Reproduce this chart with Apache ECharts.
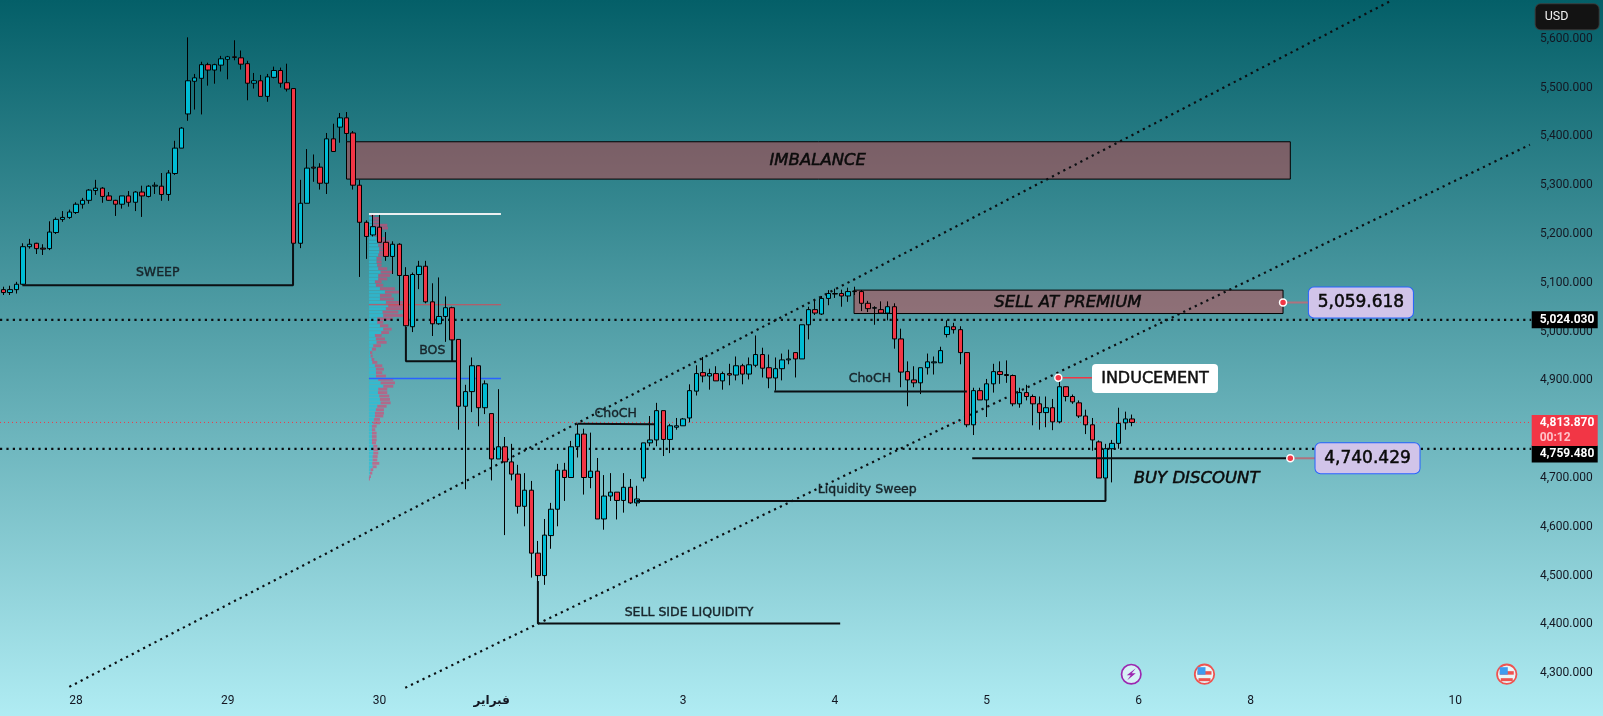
<!DOCTYPE html>
<html><head><meta charset="utf-8">
<style>html,body{margin:0;padding:0;background:#5aa}#c{width:1603px;height:716px}</style>
<script src="https://cdn.jsdelivr.net/npm/echarts@6/dist/echarts.min.js"></script>
</head><body><div id="c"></div>
<script>
const opens=[5086,5080,5086,5097,5174,5181,5171,5170,5203,5230,
5234,5244,5261,5269,5289,5294,5278,5269,5261,5278,
5265,5286,5277,5298,5298,5281,5324,5376,5446,5513,
5519,5547,5536,5546,5558,5563,5561,5549,5509,5514,
5482,5521,5535,5510,5498,5181,5263,5337,5337,5304,
5395,5419,5438,5407,5300,5224,5198,5214,5183,5154,
5179,5115,5010,5117,5134,5061,5016,5031,5049,4984,
4847,4877,4930,4844,4832,4739,4764,4733,4708,4642,
4675,4546,4500,4582,4636,4716,4701,4764,4790,4701,
4714,4616,4663,4671,4654,4681,4649,4700,4772,4778,
4838,4779,4804,4807,4823,4878,4916,4909,4914,4899,
4914,4911,4930,4913,4931,4953,4926,4905,4924,4942,
4957,4944,5014,5045,5036,5068,5077,5078,5073,5082,
5082,5058,5048,5045,5038,5051,4985,4918,4901,4895,
4926,4936,4936,4994,5010,5004,4957,4809,4879,4860,
4893,4918,4912,4910,4852,4875,4867,4852,4834,4844,
4815,4887,4867,4854,4827,4809,4774,4700,4760,4771,4813,4821];
const closes=[5080,5086,5097,5174,5179,5170,5169,5204,5230,5234,
5245,5261,5269,5290,5294,5277,5269,5261,5278,5265,
5286,5278,5298,5300,5281,5325,5376,5417,5514,5520,
5547,5536,5547,5559,5563,5562,5548,5509,5514,5482,
5522,5535,5509,5497,5181,5263,5335,5335,5304,5395,
5369,5438,5406,5300,5224,5195,5215,5183,5154,5179,
5115,5012,5117,5134,5061,5016,5031,5049,4983,4847,
4877,4930,4844,4893,4739,4764,4733,4708,4642,4675,
4546,4500,4583,4636,4716,4701,4764,4790,4701,4714,
4616,4663,4671,4654,4681,4649,4657,4772,4778,4838,
4779,4807,4807,4821,4879,4914,4909,4914,4899,4914,
4911,4930,4913,4932,4953,4925,4905,4924,4942,4944,
4944,5014,5045,5038,5068,5078,5078,5073,5082,5083,
5058,5047,5049,5038,5051,4985,4917,4901,4895,4926,
4938,4938,4961,5010,5004,4957,4809,4879,4860,4893,
4918,4912,4910,4852,4875,4867,4852,4834,4844,4815,
4887,4867,4856,4827,4809,4778,4700,4760,4771,4812,4821,4813.87];
const highs=[5092,5094,5102,5181,5190,5182,5179,5226,5234,5247,
5250,5265,5274,5292,5311,5296,5286,5270,5278,5288,
5288,5299,5300,5306,5325,5331,5391,5419,5603,5528,
5553,5551,5549,5565,5565,5597,5576,5555,5530,5526,
5528,5543,5541,5549,5498,5311,5374,5363,5345,5407,
5426,5448,5450,5411,5311,5228,5239,5239,5204,5185,
5181,5132,5121,5145,5145,5099,5111,5072,5051,4984,
4891,4947,4931,4900,4832,4882,4784,4770,4727,4710,
4694,4571,4616,4649,4729,4731,4776,4811,4801,4793,
4741,4706,4710,4671,4710,4698,4684,4772,4827,4854,
4838,4811,4823,4823,4892,4931,4948,4924,4929,4918,
4934,4949,4934,4947,4992,4967,4953,4947,4955,4963,
4957,5014,5051,5064,5073,5085,5088,5086,5090,5092,
5085,5063,5052,5062,5062,5058,5006,4939,4929,4926,
4955,4949,4969,5023,5018,5011,4958,4885,4885,4903,
4934,4939,4941,4912,4885,4891,4871,4867,4867,4862,
4903,4888,4871,4859,4840,4823,4777,4770,4778,4844,4836,4830];
const lows=[5075,5075,5078,5095,5170,5159,5157,5167,5200,5225,
5231,5241,5252,5262,5280,5264,5268,5237,5252,5256,
5247,5235,5275,5282,5268,5268,5321,5376,5432,5455,
5445,5504,5508,5533,5517,5556,5537,5474,5498,5482,
5471,5519,5500,5492,5181,5171,5263,5307,5291,5282,
5369,5387,5389,5291,5112,5149,5195,5183,5145,5118,
5054,5010,4999,5087,5058,4991,5014,4979,4981,4799,
4677,4835,4806,4831,4695,4739,4583,4695,4627,4601,
4496,4489,4481,4555,4601,4653,4701,4742,4666,4679,
4616,4594,4653,4615,4629,4647,4642,4693,4765,4765,
4745,4751,4799,4807,4814,4869,4896,4881,4899,4881,
4890,4900,4892,4902,4927,4906,4884,4879,4900,4933,
4906,4944,4984,5034,5034,5054,5069,5051,5061,5075,
5042,5040,5014,5038,5023,4965,4886,4847,4886,4872,
4912,4912,4936,4988,4996,4933,4804,4788,4860,4825,
4875,4893,4895,4847,4844,4859,4808,4799,4804,4798,
4812,4857,4852,4823,4790,4756,4700,4653,4691,4760,4799,4806];

const tickBars=[11,34,57,74,103,126,149,172,189,220];
const tickLabels=['28','29','30','فبراير','3','4','5','6','8','10'];
const barCount=232;

const lastPrice=4813.87, levelA=5024.03, levelB=4759.48, premium=5059.618, discount=4740.429;

// volume profile
const profilePrices=[5239,5232,5225,5218,5212,5205,5198,5191,5184,5177,5170,5163,5157,5150,5143,5136,5129,5122,5115,5108,5102,5095,5088,5081,5074,5067,5060,5053,5047,5040,5033,5026,5019,5012,5005,4998,4992,4985,4978,4971,4964,4957,4950,4943,4937,4930,4923,4916,4909,4902,4895,4888,4882,4875,4868,4861,4854,4847,4840,4833,4827,4820,4813,4806,4799,4792,4785,4778,4772,4765,4758,4751,4744,4737,4730,4723,4717,4710,4703,4698];
const profileBuy=[5,10,13,13,17,13,18,23,26,28,31,31,28,23,23,25,28,35,28,28,18,21,33,48,33,33,51,58,51,41,43,25,25,33,43,37,18,21,23,13,9,3,5,8,10,18,21,21,21,28,35,43,28,27,31,33,35,25,21,18,18,15,13,9,9,9,9,9,9,13,13,13,11,11,10,11,5,3,1,0];
const profileSell=[13,21,20,42,40,25,20,25,37,35,32,47,30,15,15,13,27,38,35,27,20,22,45,45,35,42,57,50,57,47,65,46,18,25,25,23,20,27,30,23,12,7,6,8,15,22,24,19,30,45,43,30,27,28,30,30,30,28,24,27,25,18,20,14,10,14,14,14,12,12,15,15,15,14,21,12,8,7,5,3];

// annotation geometry, in bar numbers and prices
const upperChannel=[[10,4272],[210.4,5679]];
const lowerChannel=[[60.9,4270],[231.3,5383]];
const dotLevels=[levelA,levelB];
const blackLines=[
 [[2.9,5095],[43.9,5095],[43.9,5181]],
 [[61,5010],[61,4939],[68.7,4939]],
 [[68,4983],[68,4939]],
 [[87,4811],[87,4810],[98.6,4810]],
 [[81,4489],[81,4402],[126.8,4402]],
 [[95.9,4653],[167,4653],[167,4700]],
 [[116.8,4877.4],[146,4877.4]],
 [[146.8,discount],[195,discount]]
];
const zones=[[52,195,5389,5312.5],[128.9,193.9,5085,5037]];
const profileTop=[[55.4,5241],[75.4,5241]];
const profilePoc=[[55.4,5055],[75.4,5055]];
const profileMid=[[55.4,4904],[75.4,4904]];
const plainTexts=[
 ['SWEEP',23.4,5120],['BOS',65,4961],['ChoCH',92.8,4832],['SELL SIDE LIQUIDITY',103.9,4423],
 ['Liquidity Sweep',130.9,4675],['ChoCH',131.3,4903]
];
const italicTexts=[
 ['IMBALANCE',123.4,5350],['SELL AT PREMIUM',161.3,5059],['BUY DISCOUNT',180.8,4698]
];
const eventIcons=[[170.9,4298,'bolt'],[182,4298,'flag'],[227.8,4298,'flag']];

const ink='#0b0f12';
const fam='"DejaVu Sans", sans-serif';
const categories=Array.from({length:barCount},(_,i)=>{const k=tickBars.indexOf(i);return k<0?'':tickLabels[k];});
const candles=opens.map((o,i)=>[o,closes[i],lows[i],highs[i]]);
const fmt=v=>v.toLocaleString('en-US',{minimumFractionDigits:3,maximumFractionDigits:3});

function polyline(pts,style,z){
 return {type:'line',xAxisIndex:1,yAxisIndex:0,data:pts,symbol:'none',silent:true,clip:false,z:z||5,animation:false,lineStyle:style};
}
function labelPoint(data,label,z){
 return {type:'scatter',xAxisIndex:1,yAxisIndex:0,data,symbolSize:1,clip:false,itemStyle:{color:'rgba(0,0,0,0)',opacity:1},silent:true,z:z||9,animation:false,label:Object.assign({show:true,position:'inside'},label)};
}

const chart=echarts.init(document.getElementById('c'),null,{renderer:'canvas',width:1603,height:716});
const series=[];

// zones
series.push({type:'custom',xAxisIndex:1,yAxisIndex:0,z:1,silent:true,animation:false,clip:false,
 data:zones,
 renderItem:(p,api)=>{
  const a=api.coord([api.value(0),api.value(2)]),b=api.coord([api.value(1),api.value(3)]);
  return {type:'rect',shape:{x:a[0],y:a[1],width:b[0]-a[0],height:b[1]-a[1]},
   style:{fill:'rgba(206,68,74,0.5)',stroke:'#000',lineWidth:1}};
 },encode:{x:[0,1],y:[2,3]}});

// volume profile
series.push({type:'custom',xAxisIndex:1,yAxisIndex:0,z:2,silent:true,animation:false,clip:false,
 data:profilePrices.map((p,i)=>[p,profileBuy[i],profileSell[i]]),
 renderItem:(p,api)=>{
  const start=55.4,unit=1/19.8,price=api.value(0),buy=api.value(1),sell=api.value(2);
  const a=api.coord([start,price]),b=api.coord([start+buy*unit,price]),c=api.coord([start+(buy+sell)*unit,price]);
  return {type:'group',children:[
   {type:'rect',shape:{x:a[0],y:a[1]-1.4,width:b[0]-a[0],height:2.8},style:{fill:'rgba(40,190,215,0.75)'}},
   {type:'rect',shape:{x:b[0],y:a[1]-1.4,width:c[0]-b[0],height:2.8},style:{fill:'rgba(225,60,110,0.6)'}}
  ]};
 },encode:{x:1,y:0}});

series.push(polyline(profileTop,{color:'#eceff1',width:2},3));
series.push(polyline(profilePoc,{color:'rgba(242,54,69,0.8)',width:1},3));
series.push(polyline(profileMid,{color:'#2962ff',width:1.5},3));

// levels and channels
series.push(polyline([[-0.5,lastPrice],[231.5,lastPrice]],{color:'#f23645',width:1,type:[1,3]},3));
dotLevels.forEach(v=>series.push(polyline([[-0.5,v],[231.5,v]],{color:ink,width:2.2,type:[2.2,4.2]},3)));
series.push(polyline(upperChannel,{color:ink,width:2.2,type:[2.2,4.2]},3));
series.push(polyline(lowerChannel,{color:ink,width:2.2,type:[2.2,4.2]},3));

// candles
series.push({type:'candlestick',xAxisIndex:0,yAxisIndex:0,data:candles,barWidth:5,z:4,silent:true,animation:false,clip:false,
 itemStyle:{color:'#00bcd4',color0:'#f23645',borderColor:'#000',borderColor0:'#000',borderColorDoji:'#000',borderWidth:1}});

// black annotation lines
blackLines.forEach(pts=>series.push(polyline(pts,{color:ink,width:2},5)));

// connectors
series.push(polyline([[193.9,premium],[197.7,premium]],{color:'#b0727e',width:2},5));
series.push(polyline([[195,discount],[198.8,discount]],{color:'#b0727e',width:2},5));
series.push(polyline([[159.85,4905.5],[165,4905.5]],{color:'#f23645',width:1.5},5));
series.push({type:'scatter',xAxisIndex:1,yAxisIndex:0,symbol:'circle',symbolSize:7,silent:true,z:7,animation:false,
 data:[[193.9,premium],[195,discount],[159.85,4905.5]],
 itemStyle:{color:'#f23645',borderColor:'#fff',borderWidth:1.5,opacity:1}});

// plain annotation text
series.push(labelPoint(plainTexts.map(t=>({value:[t[1],t[2]],name:t[0]})),
 {formatter:o=>o.name,color:'#17242a',fontFamily:fam,fontSize:12.5,textBorderColor:'#17242a',textBorderWidth:0.4}));
series.push(labelPoint(italicTexts.map(t=>({value:[t[1],t[2]],name:t[0]})),
 {formatter:o=>o.name,color:'#0b0b0b',fontFamily:fam,fontSize:16.5,fontStyle:'italic',textBorderColor:'#0b0b0b',textBorderWidth:0.5}));

// boxed prices
series.push(labelPoint([{value:[205.7,premium],name:fmt(premium)},{value:[206.7,discount],name:fmt(discount)}],
 {formatter:o=>o.name,color:'#0a0a0a',fontFamily:fam,fontSize:17,textBorderColor:'#0a0a0a',textBorderWidth:0.5,
  backgroundColor:'#d1c4e9',borderColor:'#2962ff',borderWidth:1,borderRadius:5,width:104,height:30,lineHeight:30,align:'center',verticalAlign:'middle'}));
series.push(labelPoint([{value:[174.5,4904],name:'INDUCEMENT'}],
 {formatter:o=>o.name,color:'#111',fontFamily:fam,fontSize:16,textBorderColor:'#111',textBorderWidth:0.5,
  backgroundColor:'#ffffff',borderRadius:4,width:126,height:29,lineHeight:29,align:'center',verticalAlign:'middle'}));

// right hand price tags
const tag={position:'right',distance:0,fontFamily:'Roboto, sans-serif',fontSize:12,fontWeight:'bold',color:'#fff',align:'left',verticalAlign:'middle'};
series.push(labelPoint([{value:[231.5,levelA],name:fmt(levelA)}],Object.assign({},tag,{formatter:o=>o.name,backgroundColor:'#000',width:58,height:17,lineHeight:17,padding:[0,0,0,8]}),11));
series.push(labelPoint([{value:[231.5,levelB],name:fmt(levelB)}],Object.assign({},tag,{formatter:o=>o.name,backgroundColor:'#000',width:58,height:17,lineHeight:17,padding:[0,0,0,8],offset:[0,5]}),11));
series.push(labelPoint([{value:[231.5,lastPrice],name:fmt(lastPrice)}],Object.assign({},tag,{
  formatter:o=>'{a|'+o.name+'}\n{b|00:12}',backgroundColor:'#f23645',padding:[0,0,0,8],width:58,offset:[0,8],
  rich:{a:{color:'#fff',fontFamily:'Roboto, sans-serif',fontSize:12,fontWeight:'bold',lineHeight:16,width:58},b:{color:'#ffc2c8',fontFamily:'Roboto, sans-serif',fontSize:12,fontWeight:'bold',lineHeight:15,width:58}}}),11));

// event icons
series.push({type:'custom',xAxisIndex:1,yAxisIndex:0,z:9,silent:true,animation:false,clip:false,
 data:eventIcons.map(e=>[e[0],e[1],e[2]==='bolt'?1:0]),
 renderItem:(p,api)=>{
  const c=api.coord([api.value(0),api.value(1)]),x=c[0],y=c[1];
  if(api.value(2)===1){
   return {type:'group',children:[
    {type:'circle',shape:{cx:x,cy:y,r:9.7},style:{fill:'#d7f1f6',stroke:'#9c27b0',lineWidth:1.7}},
    {type:'polygon',shape:{points:[[x+4.5,y-6],[x-4.5,y+1],[x-0.5,y+1],[x-4,y+6],[x+4.5,y-1],[x+0.5,y-1]]},style:{fill:'#9c27b0'}}
   ]};
  }
  return {type:'group',children:[
   {type:'circle',shape:{cx:x,cy:y,r:9.7},style:{fill:'#e8f6f8',stroke:'#ef5350',lineWidth:1.8}},
   {type:'rect',shape:{x:x-7,y:y-3,width:14,height:3.5},style:{fill:'#ef5350'}},
   {type:'rect',shape:{x:x-6,y:y+4,width:12,height:3},style:{fill:'#ef5350'}},
   {type:'rect',shape:{x:x-7,y:y-7,width:8,height:7.5},style:{fill:'#3f9cf0'}}
  ]};
 },encode:{x:0,y:1}});

// USD box
series.push(labelPoint([{value:[231.5,5645],name:'USD'}],Object.assign({},{position:'right',distance:4,formatter:o=>o.name,color:'#f2f2f2',fontFamily:'Roboto, sans-serif',fontSize:12.5,
  backgroundColor:'#131313',borderColor:'#3a3a3a',borderWidth:1,borderRadius:5,width:54,height:25,lineHeight:25,padding:[0,0,0,9],align:'left',verticalAlign:'middle'}),12));

chart.setOption({
 backgroundColor:new echarts.graphic.LinearGradient(0,0,0,1,[{offset:0,color:'#045f68'},{offset:1,color:'#b0ecf3'}]),
 animation:false,
 grid:{left:0,top:38.8,width:1531.2,height:634.4,containLabel:false},
 xAxis:[
  {type:'category',data:categories,position:'bottom',offset:22,axisLine:{show:false},axisTick:{show:false},splitLine:{show:false},
   axisLabel:{interval:0,margin:0,color:'#131722',fontFamily:'Roboto, sans-serif',fontSize:12,verticalAlign:'top',
    formatter:v=>v==='فبراير'?'{b|'+v+'}':v,rich:{b:{fontFamily:fam,fontWeight:'bold',fontSize:12,color:'#131722'}}}},
  {type:'value',min:-0.5,max:231.5,show:false,splitLine:{show:false}}
 ],
 yAxis:[{type:'value',min:4300,max:5600,interval:100,position:'right',axisLine:{show:false},axisTick:{show:false},splitLine:{show:false},
  axisLabel:{margin:8.8,color:'#131722',fontFamily:'Roboto, sans-serif',fontSize:12,padding:[0,0,3,0],formatter:v=>fmt(v)}}],
 series
});
</script></body></html>
